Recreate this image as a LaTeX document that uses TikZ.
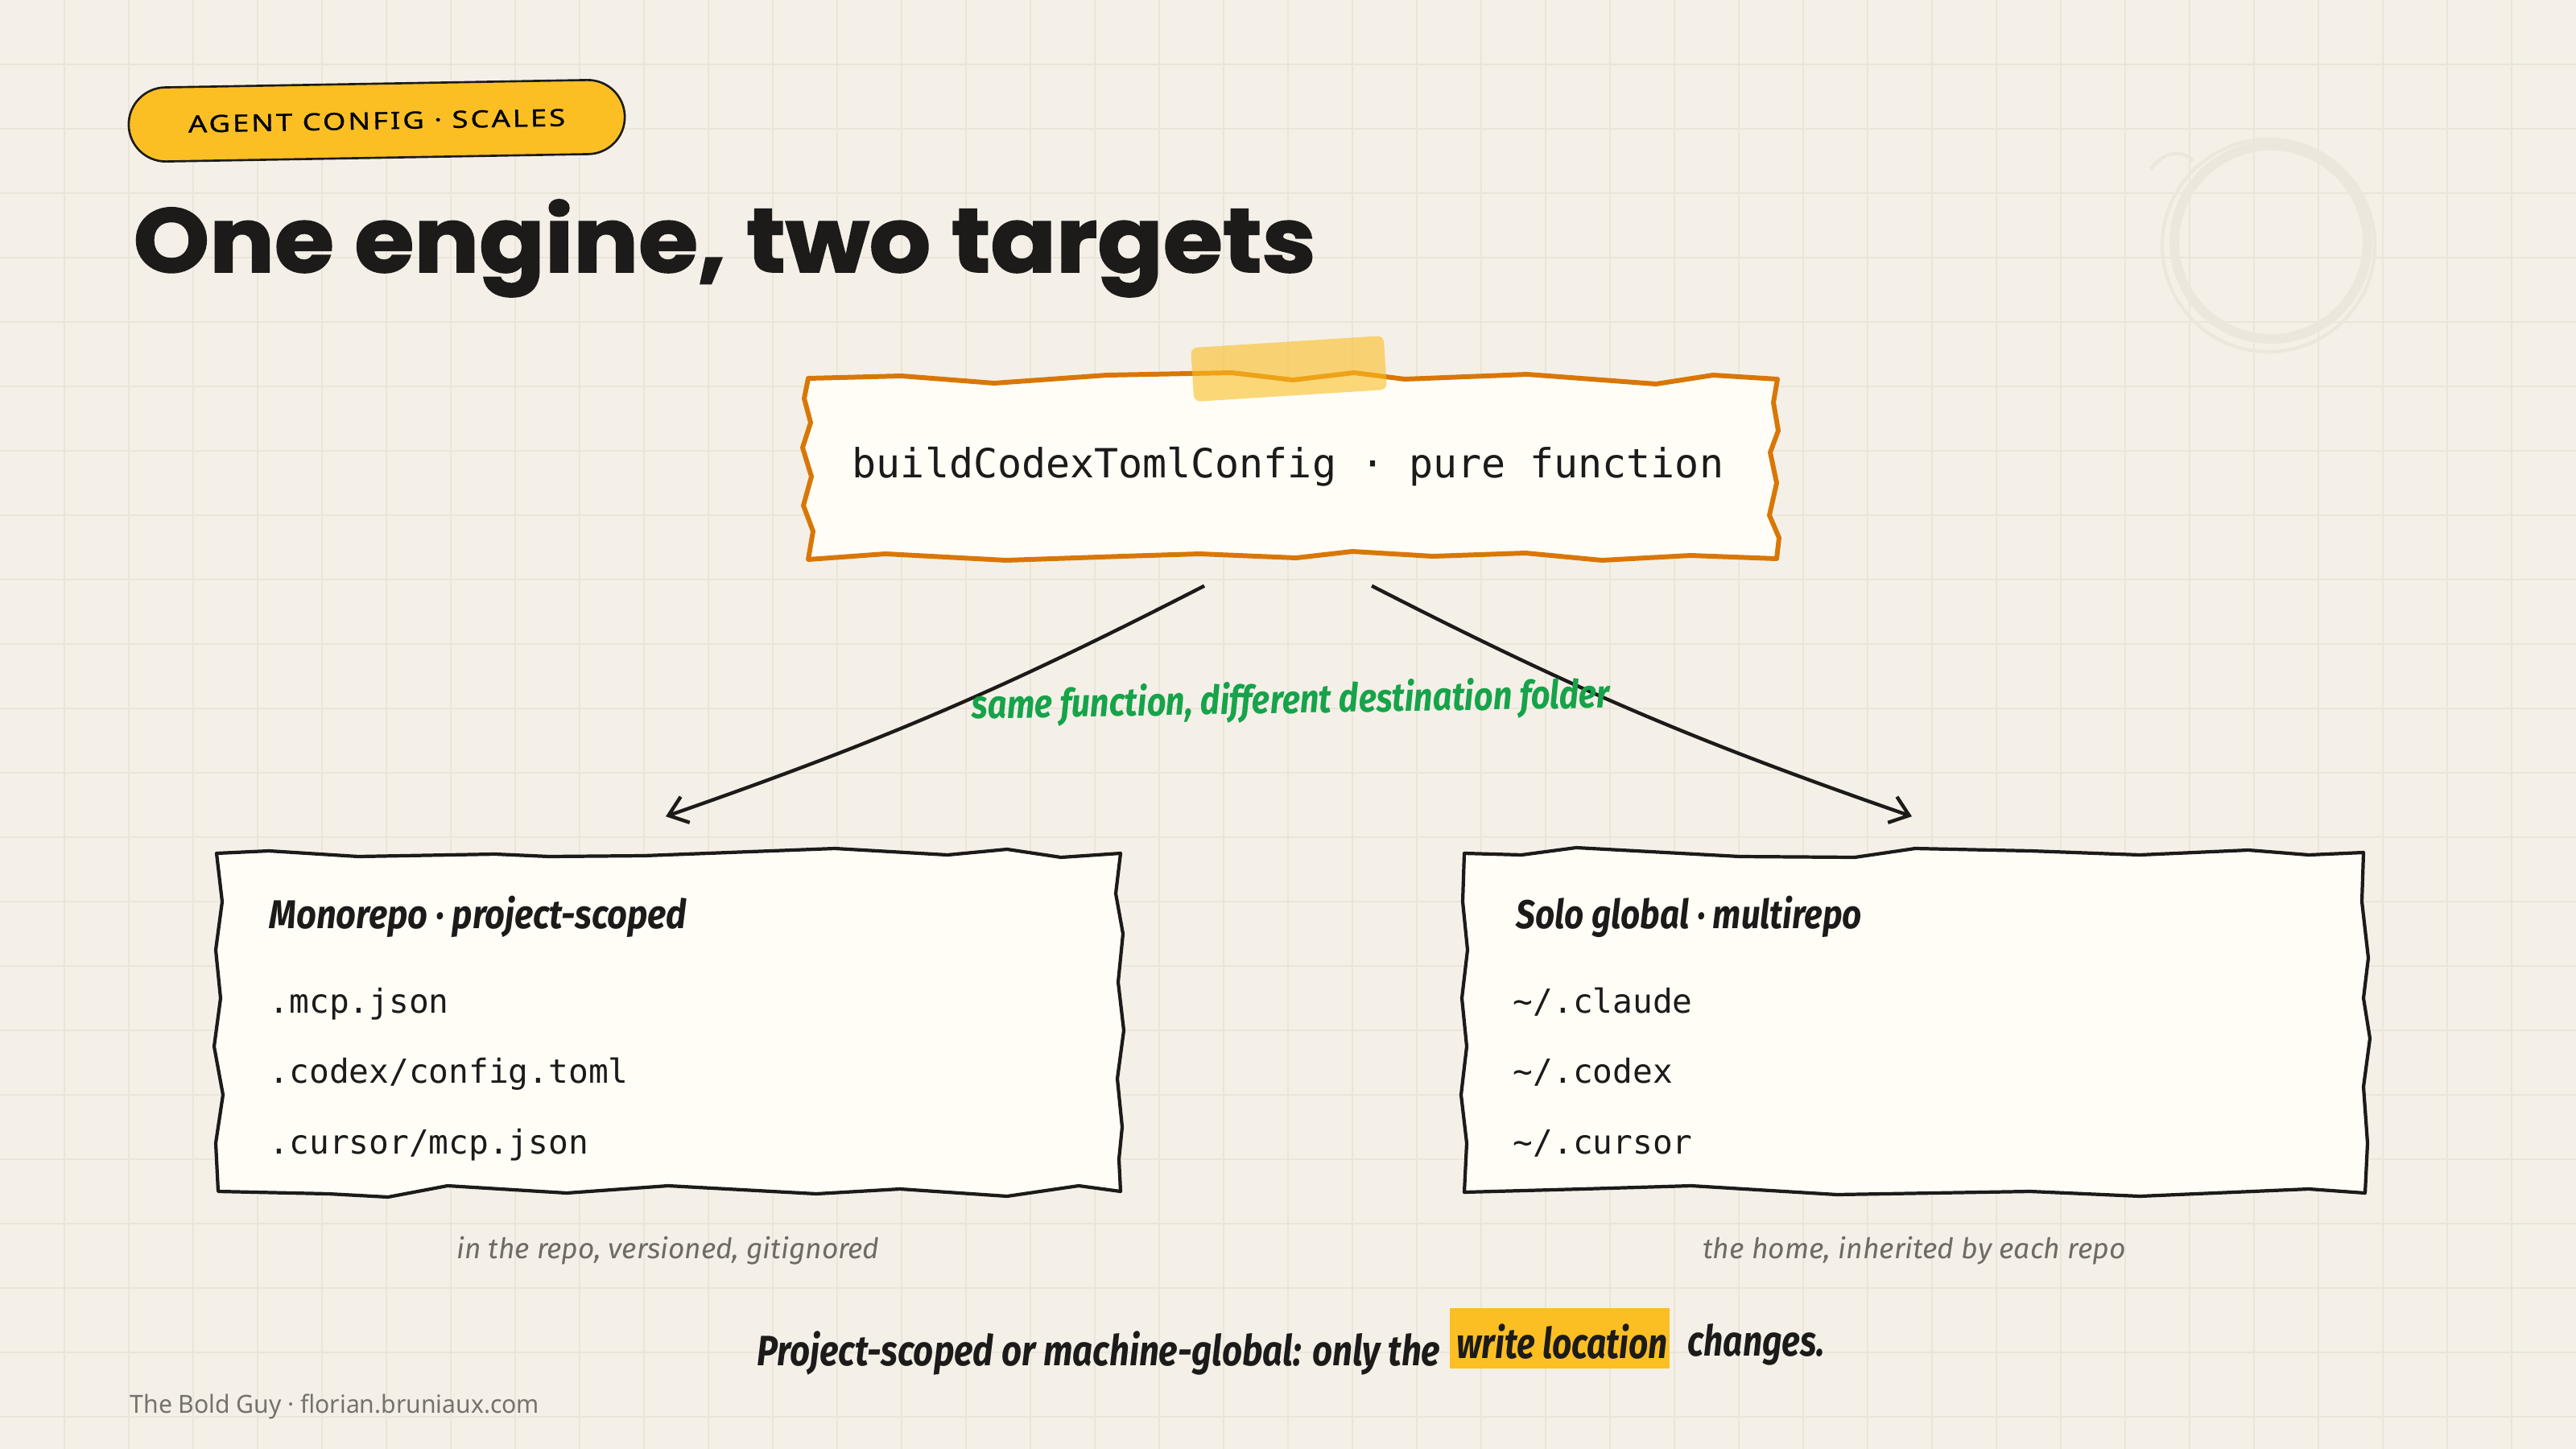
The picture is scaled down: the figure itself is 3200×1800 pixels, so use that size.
\documentclass[tikz,border=0pt]{standalone}
\usepackage{fontspec}
\usepackage{graphicx}
\usetikzlibrary{arrows.meta,calc,bending}
\setmainfont{Noto Sans}
\newfontfamily\titlefont{Poppins}[BoldFeatures={FakeBold=1.6}]
\newfontfamily\uifont{Noto Sans}[LetterSpace=8,FakeBold=0.8]
\newfontfamily\codefont{DejaVu Sans Mono}
\newfontfamily\handfont{Fira Sans}
\definecolor{bgc}{HTML}{F4F0E8}
\definecolor{gridc}{HTML}{EBE5D9}
\definecolor{ink}{HTML}{1C1B1A}
\definecolor{cardc}{HTML}{FFFDF6}
\definecolor{orangec}{HTML}{D97706}
\definecolor{yellowc}{HTML}{FBBF24}
\definecolor{greenc}{HTML}{16A34A}
\definecolor{capc}{HTML}{6E6A64}
\definecolor{footc}{HTML}{75716B}
\definecolor{ringc}{HTML}{ECE7DC}
\newcommand\fitw[2]{\resizebox{#1}{\height}{#2}}
\begin{document}
\begin{tikzpicture}[x=0.01cm,y=-0.01cm,
  gridl/.style={draw=gridc,line width=0.55pt},
  pill/.style={draw=ink,line width=0.75pt,fill=yellowc,rounded corners=0.46cm,minimum width=6.16cm,minimum height=0.92cm,inner sep=0,rotate=1},
  txt/.style={inner sep=0,text=ink},
  boxname/.style={inner sep=0,minimum height=4.22cm},
  fnline/.style={fill=cardc,draw=orangec,line width=1.7pt,line join=round},
  cardline/.style={fill=cardc,draw=ink,line width=1.2pt,line join=round},
  tapebox/.style={fill=yellowc,fill opacity=0.6,rounded corners=0.08cm,minimum width=2.4cm,minimum height=0.67cm,inner sep=0,rotate=3.6},
  conn/.style={draw=ink,line width=1.25pt,-{Straight Barb[length=0.22cm,width=0.34cm]}},
  codetxt/.style={txt,anchor=base west,font=\codefont\fontsize{11.7}{14}\selectfont},
  handtxt/.style={txt,anchor=base west},
  captxt/.style={inner sep=0,text=capc,anchor=base},
]
\useasboundingbox (0,0) rectangle (3200,1800);
\fill[bgc] (0,0) rectangle (3200,1800);
\foreach \i in {80,160,...,3120} \draw[gridl] (\i,0) -- (\i,1800);
\foreach \j in {80,160,...,1760} \draw[gridl] (0,\j) -- (3200,\j);

% faint decorative ring
\draw[ringc,line width=3.4pt] (2821,301) circle [radius=120];
\draw[ringc,line width=1.2pt] (2818,305) circle [radius=132];
\draw[ringc,line width=1.2pt] (2672,210) .. controls (2690,186) and (2712,186) .. (2724,200);

% tag and title
\node[pill] (tag) at (468,150) {\fitw{4.68cm}{\uifont\fontsize{8.4}{10}\selectfont AGENT CONFIG · SCALES}};
\node[txt,anchor=base west] (title) at (165,338) {\fitw{14.68cm}{\titlefont\bfseries\fontsize{32}{36}\selectfont One engine, two targets}};

% main function card
\filldraw[fnline] (1004,470) -- (1120,467) -- (1235,476) -- (1375,466) -- (1530,463) -- (1606,472) -- (1682,463) -- (1745,471) -- (1897,465) -- (2057,477) -- (2128,466) -- (2208,471) -- (2203,500) -- (2209,535) -- (2199,562) -- (2207,600) -- (2198,640) -- (2210,668) -- (2207,694) -- (2100,690) -- (1990,696) -- (1895,687) -- (1780,691) -- (1680,685) -- (1610,693) -- (1490,688) -- (1395,691) -- (1250,696) -- (1100,688) -- (1004,695) -- (1010,660) -- (998,628) -- (1008,592) -- (997,556) -- (1007,525) -- (999,495) -- cycle;
\node[inner sep=0,minimum width=12.04cm,minimum height=2.24cm] (fn) at (1606,582) {};
\node[txt,anchor=base] (fntext) at (1600,593) {\codefont\fontsize{14.2}{17}\selectfont buildCodexTomlConfig · pure function};
\node[tapebox] (tapeN) at (1601,458) {};

% left card
\filldraw[cardline] (269,1060) -- (334,1057) -- (445,1064) -- (615,1061) -- (682,1064) -- (800,1063) -- (1037,1054) -- (1177,1062) -- (1251,1055) -- (1318,1065) -- (1392,1060) -- (1386,1110) -- (1395,1160) -- (1389,1220) -- (1396,1280) -- (1388,1340) -- (1394,1400) -- (1390,1440) -- (1392,1480) -- (1340,1473) -- (1251,1486) -- (1118,1477) -- (1014,1483) -- (830,1473) -- (704,1482) -- (556,1473) -- (482,1487) -- (408,1483) -- (271,1480) -- (268,1420) -- (277,1360) -- (266,1300) -- (274,1240) -- (268,1180) -- (276,1120) -- cycle;
\node[boxname,minimum width=11.22cm] (mono) at (831,1269) {};
\node[handtxt] (monohead) at (334,1153) {\fitw{5.18cm}{\handfont\itshape\bfseries\fontsize{14.2}{17}\selectfont Monorepo · project-scoped}};
\node[codetxt] (m1) at (334,1258) {.mcp.json};
\node[codetxt] (m2) at (334,1345) {.codex/config.toml};
\node[codetxt] (m3) at (334,1433) {.cursor/mcp.json};

% right card
\filldraw[cardline] (1819,1060) -- (1890,1062) -- (1958,1053) -- (2161,1064) -- (2304,1065) -- (2379,1054) -- (2522,1057) -- (2658,1062) -- (2793,1056) -- (2868,1062) -- (2936,1059) -- (2934,1120) -- (2942,1190) -- (2936,1240) -- (2944,1290) -- (2936,1350) -- (2941,1420) -- (2938,1482) -- (2868,1477) -- (2658,1486) -- (2522,1480) -- (2282,1484) -- (2101,1473) -- (1966,1477) -- (1819,1481) -- (1822,1420) -- (1815,1360) -- (1822,1300) -- (1816,1240) -- (1823,1180) -- (1817,1120) -- cycle;
\node[boxname,minimum width=11.19cm] (solo) at (2377,1271) {};
\node[handtxt] (solohead) at (1883,1153) {\fitw{4.29cm}{\handfont\itshape\bfseries\fontsize{14.2}{17}\selectfont Solo global · multirepo}};
\node[codetxt] (s1) at (1879,1258) {\textasciitilde/.claude};
\node[codetxt] (s2) at (1879,1345) {\textasciitilde/.codex};
\node[codetxt] (s3) at (1879,1433) {\textasciitilde/.cursor};

% connectors
\coordinate (aL1) at ($(fn.south)+(-110,33)$);
\coordinate (aR1) at ($(fn.south)+(98,33)$);
\coordinate (aL2) at ($(mono.north)+(-4,-43)$);
\coordinate (aR2) at ($(solo.north)+(-2,-45)$);
\draw[conn] (aL1) to[bend left=4] (aL2);
\draw[conn] (aR1) to[bend right=4] (aR2);
\node[inner sep=0,text=greenc,anchor=base,rotate=1] (lbl) at (1604,886) {\fitw{7.92cm}{\handfont\itshape\bfseries\fontsize{14}{16}\selectfont same function, different destination folder}};

% captions
\node[captxt] (capL) at (830,1563) {\fitw{5.25cm}{\handfont\itshape\fontsize{10}{12}\selectfont in the repo, versioned, gitignored}};
\node[captxt] (capR) at (2378,1563) {\fitw{5.25cm}{\handfont\itshape\fontsize{10}{12}\selectfont the home, inherited by each repo}};

% bottom line
\begin{scope}[rotate around={0.6:(1600,1690)}]
\node[fill=yellowc,minimum width=2.73cm,minimum height=0.74cm,inner sep=0] (hl) at (1938,1666) {};
\node[handtxt] (ta) at (940,1690) {\fitw{8.48cm}{\handfont\itshape\bfseries\fontsize{15}{18}\selectfont Project-scoped or machine-global: only the}};
\node[handtxt] (tb) at (1809,1690) {\fitw{2.62cm}{\handfont\itshape\bfseries\fontsize{15}{18}\selectfont write location}};
\node[handtxt] (tc) at (2096,1690) {\fitw{1.70cm}{\handfont\itshape\bfseries\fontsize{15}{18}\selectfont changes.}};
\end{scope}

% footer
\node[inner sep=0,text=footc,anchor=base west] (foot) at (161,1755) {\fitw{5.08cm}{\fontsize{8.8}{10}\selectfont The Bold Guy · florian.bruniaux.com}};
\end{tikzpicture}
\end{document}
